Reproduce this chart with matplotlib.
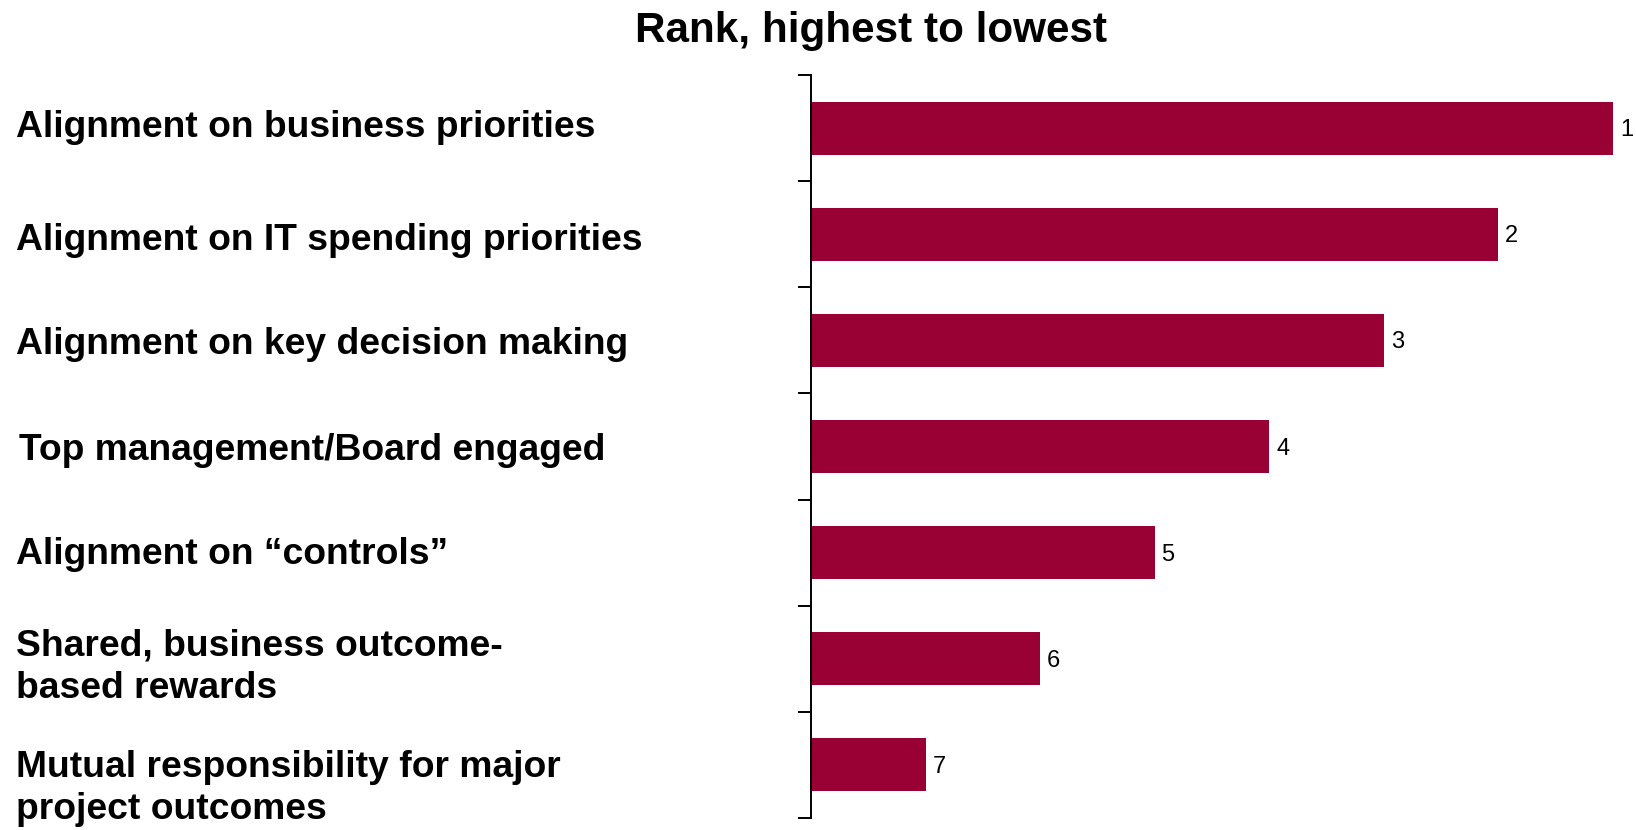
import numpy as np
import matplotlib.pyplot as plt
from matplotlib import transforms

plt.rcParams['font.family'] = ['Liberation Sans', 'DejaVu Sans']

categories = [
    "Alignment on business priorities",
    "Alignment on IT spending priorities",
    "Alignment on key decision making",
    "Top management/Board engaged",
    "Alignment on \u201ccontrols\u201d",
    "Shared, business outcome-\nbased rewards",
    "Mutual responsibility for major\nproject outcomes",
]
scores = [7, 6, 5, 4, 3, 2, 1]
rank_labels = ["1", "2", "3", "4", "5", "6", "7"]

fig = plt.figure(figsize=(16.36, 8.3), dpi=100)
ax = fig.add_axes([811/1636, 1 - 818/830, (1613 - 811)/1636, (818 - 75)/830])

y = np.arange(len(categories))
ax.barh(y, scores, height=0.5, color="#990033")

for yi, s, lab in zip(y, scores, rank_labels):
    ax.text(s + 0.06, yi + 0.02, lab, va="center", ha="left", fontsize=17, clip_on=False)

# category names on the left side of the figure
label_shift = [-0.01, 0.06, 0.04, 0.04, 0.02, 0.08, 0.22]
label_x = [16, 16, 16, 19, 16, 16, 16]
trans = transforms.blended_transform_factory(fig.transFigure, ax.transData)
for yi, cat, dy, lx in zip(y, categories, label_shift, label_x):
    ax.text(lx/1636, yi + dy, cat, transform=trans, va="center", ha="left",
            fontsize=26.8, fontweight="bold", linespacing=1.28)

ax.set_xlim(0, 7)
ax.set_ylim(len(categories) - 0.5, -0.5)
ax.set_yticks(np.arange(-0.5, len(categories)))
ax.set_yticklabels([])
ax.set_xticks([])
ax.tick_params(axis="y", direction="out", length=9.5, width=1.4, color="black")
for side in ["top", "right", "bottom"]:
    ax.spines[side].set_visible(False)
ax.spines["left"].set_linewidth(1.4)

fig.text(871/1636, 1 - 31/830, "Rank, highest to lowest", ha="center", va="center",
         fontsize=30.4, fontweight="bold")

fig.savefig("out.png", dpi=100, facecolor="white")
